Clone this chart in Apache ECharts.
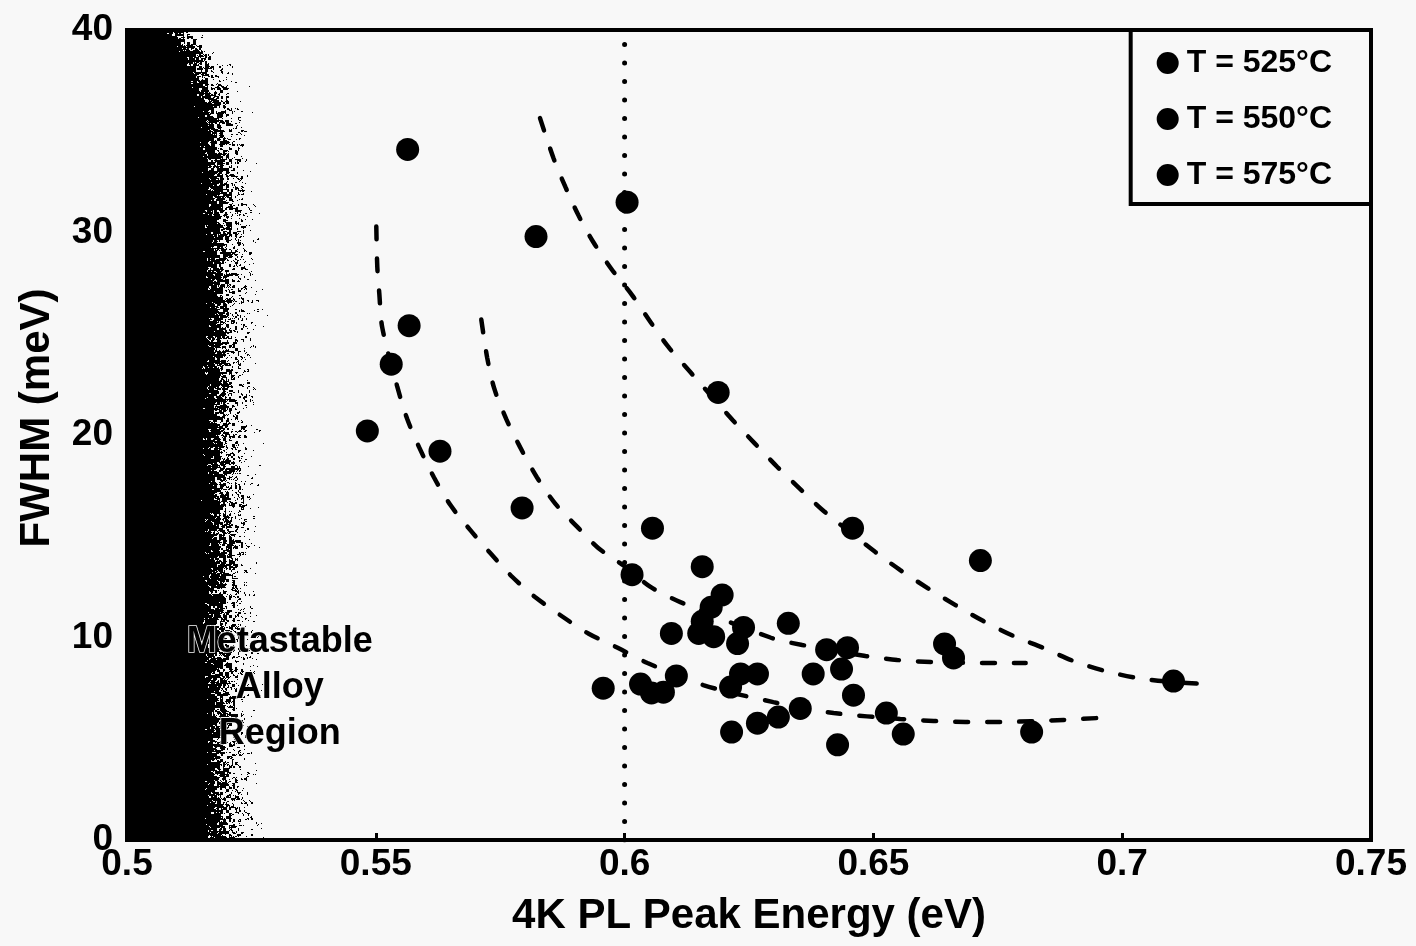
<!DOCTYPE html>
<html>
<head>
<meta charset="utf-8">
<script src="https://cdn.jsdelivr.net/npm/echarts@6/dist/echarts.min.js"></script>
<style>
  html, body { margin: 0; padding: 0; background: #f8f8f8; }
  #chart { width: 1416px; height: 946px; }
</style>
</head>
<body>
<div id="chart"></div>
<script>
// ---- data -------------------------------------------------------------
const seriesNames = ['T = 525°C', 'T = 550°C', 'T = 575°C'];

// [PL peak energy (eV), FWHM (meV)]
const points525 = [
  [0.5564, 34.1], [0.5567, 25.4], [0.5531, 23.5], [0.5483, 20.2], [0.5629, 19.2],
  [0.5957, 7.5], [0.6032, 7.7], [0.6054, 7.26], [0.6078, 7.3], [0.6104, 8.1],
  [0.6213, 7.55], [0.6233, 8.2], [0.6267, 8.2], [0.6215, 5.33], [0.6267, 5.77],
  [0.6309, 6.07], [0.6353, 6.5], [0.6428, 4.7], [0.646, 7.15], [0.6526, 6.27],
  [0.656, 5.23], [0.6818, 5.33]
];
const points550 = [
  [0.5822, 29.8], [0.5794, 16.4], [0.6056, 15.4], [0.6015, 13.1], [0.6156, 13.5],
  [0.6094, 10.2], [0.6196, 12.1], [0.6174, 11.5], [0.6156, 10.8], [0.6149, 10.2],
  [0.6179, 10.04], [0.6239, 10.5], [0.6227, 9.7], [0.6329, 10.7], [0.6406, 9.4],
  [0.6448, 9.5], [0.6436, 8.44], [0.6379, 8.2], [0.6643, 9.68], [0.6661, 8.99]
];
const points575 = [
  [0.6005, 31.5], [0.6188, 22.1], [0.6458, 15.4], [0.6715, 13.8], [0.7103, 7.85]
];

// dashed guide curves
const fitLow = [
  [0.5501, 30.3], [0.5503, 28.3], [0.5507, 27.0], [0.5513, 25.3], [0.5543, 22.4],
  [0.5563, 20.8], [0.5587, 19.4], [0.5617, 17.9], [0.565, 16.54], [0.569, 15.3],
  [0.573, 14.17], [0.5774, 13.0], [0.582, 12.0], [0.5877, 11.0], [0.5927, 10.2],
  [0.5987, 9.48], [0.6046, 8.74], [0.6158, 7.65], [0.6299, 6.81], [0.642, 6.27],
  [0.6554, 5.98], [0.6621, 5.88], [0.6685, 5.83], [0.6751, 5.83], [0.6882, 5.93],
  [0.6949, 6.02], [0.6967, 6.03]
];
const fitMid = [
  [0.5712, 25.7], [0.5724, 23.8], [0.5738, 22.3], [0.5762, 20.8], [0.579, 19.4],
  [0.5824, 17.9], [0.5861, 16.6], [0.5905, 15.46], [0.5947, 14.42], [0.6001, 13.5],
  [0.6052, 12.5], [0.6112, 11.75], [0.6293, 10.0], [0.6357, 9.63], [0.6484, 9.09],
  [0.6548, 8.89], [0.6615, 8.79], [0.6745, 8.74], [0.6806, 8.74]
];
const fitHigh = [
  [0.583, 35.65], [0.5857, 33.68], [0.5881, 32.25], [0.5907, 30.86], [0.5937, 29.53],
  [0.5975, 28.15], [0.6015, 26.91], [0.6052, 25.58], [0.6088, 24.35], [0.6132, 23.11],
  [0.6217, 20.74], [0.6261, 19.6], [0.6307, 18.42], [0.6353, 17.33], [0.64, 16.25],
  [0.6504, 14.22], [0.6554, 13.33], [0.6609, 12.44], [0.6665, 11.6], [0.6721, 10.81],
  [0.6782, 10.07], [0.6842, 9.48], [0.6902, 8.84], [0.6965, 8.35], [0.7031, 8.0],
  [0.7101, 7.8], [0.7168, 7.7]
];

// vertical dotted reference at 0.6 eV
const guideLine = [[0.6, 0], [0.6, 40]];

// shaded band: [xStart, yStart, xEnd, yEnd]
const metastableRegion = [[0.5, 0, 0.53, 40]];
const regionText = 'Metastable\nAlloy\nRegion';
const regionTextAt = [[0.5307, 7.5]];

const xTickLabels = ['0.5', '0.55', '0.6', '0.65', '0.7', '0.75'];
const yTickLabels = ['0', '10', '20', '30', '40'];

// ---- grainy band texture ----------------------------------------------
function hash(x, y) {
  let n = Math.imul(x, 374761393) ^ Math.imul(y, 668265263);
  n = Math.imul(n ^ (n >>> 13), 1274126177);
  return ((n ^ (n >>> 16)) >>> 0) / 4294967296;
}
const grainCache = {};
function grainCanvas(w, h) {
  const key = w + 'x' + h;
  if (grainCache[key]) return grainCache[key];
  const c = document.createElement('canvas');
  c.width = w; c.height = h;
  const ctx = c.getContext('2d');
  const img = ctx.createImageData(w, h);
  const k = w / 149;
  for (let y = 0; y < h; y++) {
    const s = (73 - 40 * Math.exp(-y / 45)) * k;
    const e = (150 - 64 * Math.exp(-y / 50)) * k;
    for (let x = 0; x < w; x++) {
      let d;
      if (x < s) d = 0.99;
      else if (x < e) { const t = (x - s) / (e - s); d = 0.92 * Math.pow(1 - t, 1.4); }
      else d = 0.003;
      // clumpy grain: coarse 3px cells blended with finer 2px and per-pixel noise
      const n = 0.45 * hash(Math.floor(x / 3), Math.floor(y / 3) + 5000) +
                0.35 * hash(x >> 1, y >> 1) +
                0.2 * hash(x + 7919, y + 104729);
      const i = (y * w + x) * 4;
      img.data[i] = img.data[i + 1] = img.data[i + 2] = 0;
      img.data[i + 3] = n < d ? 255 : 0;
    }
  }
  ctx.putImageData(img, 0, 0);
  grainCache[key] = c;
  return c;
}

// ---- chart ------------------------------------------------------------
const FONT = 'Liberation Sans';
const chart = echarts.init(document.getElementById('chart'), null, { renderer: 'canvas' });

const dotStyle = {
  symbol: 'circle', symbolSize: 23,
  itemStyle: { color: '#000', opacity: 1 }, z: 4
};
const dashStyle = {
  type: 'line', smooth: 0.3, showSymbol: false, symbol: 'none', silent: true, z: 3,
  lineStyle: { color: '#000', width: 4.5, type: [13, 19], cap: 'round' }
};

chart.setOption({
  backgroundColor: '#f8f8f8',
  animation: false,
  grid: {
    left: 127, right: 45, top: 30, bottom: 106,
    show: true, borderColor: '#000', borderWidth: 4, backgroundColor: 'transparent'
  },
  legend: {
    data: seriesNames,
    orient: 'vertical',
    right: 45, top: 30,
    icon: 'circle', itemWidth: 22, itemHeight: 22, itemGap: 24,
    padding: [17, 39, 13, 26],
    backgroundColor: '#f8f8f8',
    borderColor: '#000', borderWidth: 4,
    selectedMode: false,
    itemStyle: { opacity: 1 },
    textStyle: {
      fontFamily: FONT, fontWeight: 'bold', fontSize: 32, color: '#000',
      lineHeight: 32, padding: [0, 0, 0, 3]
    }
  },
  xAxis: {
    type: 'value', min: 0.5, max: 0.75, interval: 0.05,
    name: '4K PL Peak Energy (eV)', nameLocation: 'middle', nameGap: 55,
    nameTextStyle: { fontFamily: FONT, fontWeight: 'bold', fontSize: 42, color: '#000' },
    axisLine: { show: true, lineStyle: { color: '#000', width: 4 } },
    axisTick: { show: true, inside: true, length: 7, lineStyle: { color: '#000', width: 3 } },
    splitLine: { show: false },
    axisLabel: {
      margin: 6, color: '#000', fontFamily: FONT, fontWeight: 'bold', fontSize: 37,
      formatter: (v, i) => xTickLabels[i]
    }
  },
  yAxis: {
    type: 'value', min: 0, max: 40, interval: 10,
    name: 'FWHM (meV)', nameLocation: 'middle', nameGap: 69,
    nameTextStyle: { fontFamily: FONT, fontWeight: 'bold', fontSize: 42, color: '#000', padding: [0, 0, 0, 34] },
    axisLine: { show: true, lineStyle: { color: '#000', width: 4 } },
    axisTick: { show: true, inside: true, length: 7, lineStyle: { color: '#000', width: 3 } },
    splitLine: { show: false },
    axisLabel: {
      margin: 14, color: '#000', fontFamily: FONT, fontWeight: 'bold', fontSize: 37,
      formatter: (v, i) => yTickLabels[i]
    }
  },
  series: [
    {
      type: 'custom', name: 'region', data: metastableRegion, silent: true, z: 1,
      encode: { x: [0, 2], y: [1, 3] },
      renderItem: function (params, api) {
        const p0 = api.coord([api.value(0), api.value(3)]);
        const p1 = api.coord([api.value(2), api.value(1)]);
        const w = Math.max(1, Math.round(p1[0] - p0[0]));
        const h = Math.max(1, Math.round(p1[1] - p0[1]));
        return {
          type: 'image',
          style: { image: grainCanvas(w, h), x: p0[0], y: p0[1], width: w, height: h }
        };
      }
    },
    {
      type: 'line', name: 'guide', data: guideLine, showSymbol: false, symbol: 'none', silent: true, z: 2,
      lineStyle: { color: '#000', width: 5, type: [0.1, 18.4], cap: 'round' }
    },
    Object.assign({ name: 'fitLow', data: fitLow }, dashStyle),
    Object.assign({ name: 'fitMid', data: fitMid }, dashStyle),
    Object.assign({ name: 'fitHigh', data: fitHigh }, dashStyle),
    Object.assign({ type: 'scatter', name: seriesNames[0], data: points525 }, dotStyle),
    Object.assign({ type: 'scatter', name: seriesNames[1], data: points550 }, dotStyle),
    Object.assign({ type: 'scatter', name: seriesNames[2], data: points575 }, dotStyle),
    {
      type: 'scatter', name: 'regionLabel', data: regionTextAt, symbolSize: 1, silent: true, z: 6,
      itemStyle: { color: 'rgba(0,0,0,0)', opacity: 1 },
      label: {
        show: true, position: 'inside', formatter: regionText, align: 'center',
        fontFamily: FONT, fontWeight: 'bold', fontSize: 36, lineHeight: 46, color: '#000',
        opacity: 1, textBorderColor: '#f8f8f8', textBorderWidth: 1.5
      }
    }
  ]
});
</script>
</body>
</html>
